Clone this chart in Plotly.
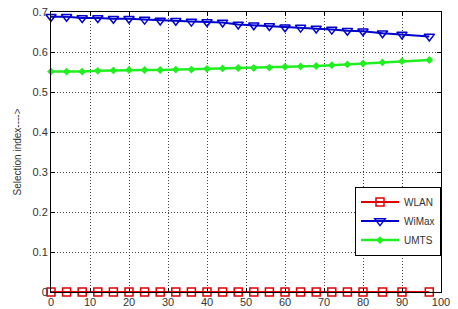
import plotly.graph_objects as go

x_vals = [0, 4, 8, 12, 16, 20, 24, 28, 32, 36, 40, 44,
          48, 52, 56, 60, 64, 68, 72, 76, 80, 85, 90, 97]
wlan = [0.0] * 24
wimax = [0.688, 0.688, 0.685, 0.685, 0.683, 0.683, 0.681, 0.679, 0.678, 0.676, 0.675, 0.674,
         0.669, 0.667, 0.665, 0.662, 0.661, 0.659, 0.656, 0.653, 0.652, 0.647, 0.644, 0.639]
umts = [0.551, 0.551, 0.551, 0.553, 0.554, 0.555, 0.555, 0.555, 0.556, 0.556, 0.558, 0.559,
        0.560, 0.560, 0.561, 0.563, 0.564, 0.565, 0.567, 0.569, 0.571, 0.574, 0.577, 0.580]
x_ticks = [0, 10, 20, 30, 40, 50, 60, 70, 80, 90, 100]
y_ticks = [0, 0.1, 0.2, 0.3, 0.4, 0.5, 0.6, 0.7]
y_tick_labels = ["0", "0.1", "0.2", "0.3", "0.4", "0.5", "0.6", "0.7"]

fig = go.Figure()
fig.add_trace(go.Scatter(x=x_vals, y=wlan, name="WLAN", mode="lines+markers",
                         line=dict(color="#e00000", width=2),
                         marker=dict(symbol="square-open", size=8, color="#e00000", line=dict(width=1.5)),
                         cliponaxis=False))
fig.add_trace(go.Scatter(x=x_vals, y=wimax, name="WiMax", mode="lines+markers",
                         line=dict(color="#0000cc", width=2),
                         marker=dict(symbol="triangle-down-open", size=9, color="#0000cc", line=dict(width=1.5)),
                         cliponaxis=False))
fig.add_trace(go.Scatter(x=x_vals, y=umts, name="UMTS", mode="lines+markers",
                         line=dict(color="#22ee22", width=2.5),
                         marker=dict(symbol="diamond", size=6, color="#22ee22"),
                         cliponaxis=False))

axis_common = dict(showline=True, linecolor="black", linewidth=1, mirror="ticks",
                   ticks="inside", ticklen=4, tickcolor="black",
                   showgrid=True, gridcolor="#444444", griddash="1px,2px", gridwidth=1,
                   zeroline=False, automargin=False, ticklabeloverflow="allow",
                   tickfont=dict(family="Liberation Sans, Arial", size=11, color="#333333"))

fig.update_layout(
    width=458, height=309,
    margin=dict(l=51, r=17, t=12, b=17),
    paper_bgcolor="white", plot_bgcolor="white",
    showlegend=True,
    legend=dict(x=1, y=0.13, xanchor="right", yanchor="bottom",
                bordercolor="black", borderwidth=1, bgcolor="white",
                font=dict(family="Liberation Sans, Arial", size=10, color="#333333"),
                tracegroupgap=0, itemwidth=38),
    xaxis=dict(range=[0, 100], tickvals=x_ticks, **axis_common),
    yaxis=dict(range=[0, 0.7], tickvals=y_ticks, ticktext=y_tick_labels,
               title=dict(text="Selection index---->", standoff=9,
                          font=dict(family="Liberation Sans, Arial", size=10, color="#333333")),
               **axis_common),
)

# remove the default 8px page margin so the figure fills the window exactly
fig.write_html("out.html", config={"displayModeBar": False},
               post_script="document.body.style.margin='0';")
